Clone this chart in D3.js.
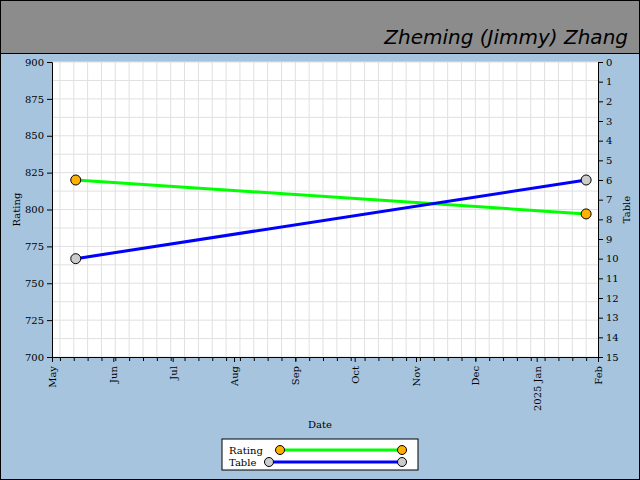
<!DOCTYPE html>
<html><head><meta charset="utf-8">
<script src="https://cdn.jsdelivr.net/npm/d3@7"></script>
<style>body{margin:0}svg{display:block}text{font-family:"DejaVu Serif",serif;font-size:10px}</style>
</head><body>
<script>
var dates = ["2024-05-13", "2025-01-26"];
var ratingValues = [820, 797];
var tableValues = [10, 6];
var monthTicks = ["2024-05-01","2024-06-01","2024-07-01","2024-08-01","2024-09-01","2024-10-01","2024-11-01","2024-12-01","2025-01-01","2025-02-01"];

var W = 640, H = 480, L = 52, R = 598, T = 62, B = 357;
var parse = d3.timeParse("%Y-%m-%d");
var svg = d3.select("body").append("svg").attr("width", W).attr("height", H);
svg.append("rect").attr("x",0.5).attr("y",0.5).attr("width",W-1).attr("height",H-1).attr("fill","#a6c4de").attr("stroke","#000");
svg.append("rect").attr("x",0.5).attr("y",0.5).attr("width",W-1).attr("height",53).attr("fill","#8c8c8c").attr("stroke","#000");
svg.append("text").attr("x",628).attr("y",44).attr("text-anchor","end")
    .style("font-family","'DejaVu Sans'").style("font-style","italic").style("font-weight","300").style("font-size","20px")
    .text("Zheming (Jimmy) Zhang");

var x = d3.scaleTime().domain([parse("2024-05-01"), parse("2025-02-01")]).range([L, R]);
var yR = d3.scaleLinear().domain([700, 900]).range([B, T]);
var yT = d3.scaleLinear().domain([15, 0]).range([B, T]);

svg.append("rect").attr("x",L).attr("y",T).attr("width",R-L).attr("height",B-T).attr("fill","#fff");
var weeks = d3.timeWeek.every(1).range(x.domain()[0], x.domain()[1]);
svg.append("g").selectAll("line").data(weeks).join("line")
    .attr("x1",d=>x(d)).attr("x2",d=>x(d)).attr("y1",T).attr("y2",B).attr("stroke","#e0e0e0");
svg.append("g").selectAll("line").data(d3.range(700, 901, 12.5)).join("line")
    .attr("x1",L).attr("x2",R).attr("y1",d=>yR(d)).attr("y2",d=>yR(d)).attr("stroke","#e0e0e0");

svg.append("g").attr("transform","translate(0,"+B+")")
    .call(d3.axisBottom(x).tickValues(weeks).tickFormat("").tickSize(4).tickSizeOuter(0));
var xa = svg.append("g").attr("transform","translate(0,"+B+")")
    .call(d3.axisBottom(x).tickValues(monthTicks.map(parse)).tickSize(5)
        .tickFormat(d => d.getMonth() === 0 ? "2025 Jan" : d3.timeFormat("%b")(d)));
xa.selectAll("text").attr("transform","rotate(-90)").attr("text-anchor","end")
    .attr("x",-9).attr("y",0).attr("dy","0.35em").style("fill","#000");
svg.append("g").attr("transform","translate("+L+",0)")
    .call(d3.axisLeft(yR).tickValues(d3.range(700, 901, 25)).tickSize(5))
    .selectAll("text").style("fill","#000");
svg.append("g").attr("transform","translate("+R+",0)")
    .call(d3.axisRight(yT).tickValues(d3.range(0, 16)).tickSize(5))
    .selectAll("text").style("fill","#000");
svg.selectAll(".domain").attr("stroke","#000");

svg.append("text").attr("x",320).attr("y",428).attr("text-anchor","middle").text("Date");
svg.append("text").attr("transform","translate(20,"+(T+B)/2+") rotate(-90)").attr("text-anchor","middle").text("Rating");
svg.append("text").attr("transform","translate(630,"+(T+B)/2+") rotate(-90)").attr("text-anchor","middle").text("Table");

var ds = dates.map(parse);
function series(vals, y, color, fill) {
  var pts = ds.map((d, i) => [x(d), y(vals[i])]);
  svg.append("path").attr("d", d3.line()(pts)).attr("fill","none").attr("stroke",color).attr("stroke-width",3);
  svg.append("g").selectAll("circle").data(pts).join("circle")
    .attr("cx",d=>d[0]).attr("cy",d=>d[1]).attr("r",5).attr("fill",fill).attr("stroke","#000");
}
series(ratingValues, yR, "#00ff00", "#ffb000");
series(tableValues, yT, "#0000ff", "#cccccc");

var lg = svg.append("g").attr("transform","translate(222,439)");
lg.append("rect").attr("width",196).attr("height",31).attr("fill","#fff").attr("stroke","#000");
[["Rating","#00ff00","#ffb000",58],["Table","#0000ff","#cccccc",47]].forEach(function(s, i){
  var yy = 11 + i*12;
  lg.append("text").attr("x",7).attr("y",yy+4).text(s[0]);
  lg.append("line").attr("x1",s[3]).attr("x2",180).attr("y1",yy).attr("y2",yy).attr("stroke",s[1]).attr("stroke-width",3);
  lg.selectAll(null).data([s[3],180]).join("circle").attr("cx",d=>d).attr("cy",yy).attr("r",4.5).attr("fill",s[2]).attr("stroke","#000");
});
</script>
</body></html>
